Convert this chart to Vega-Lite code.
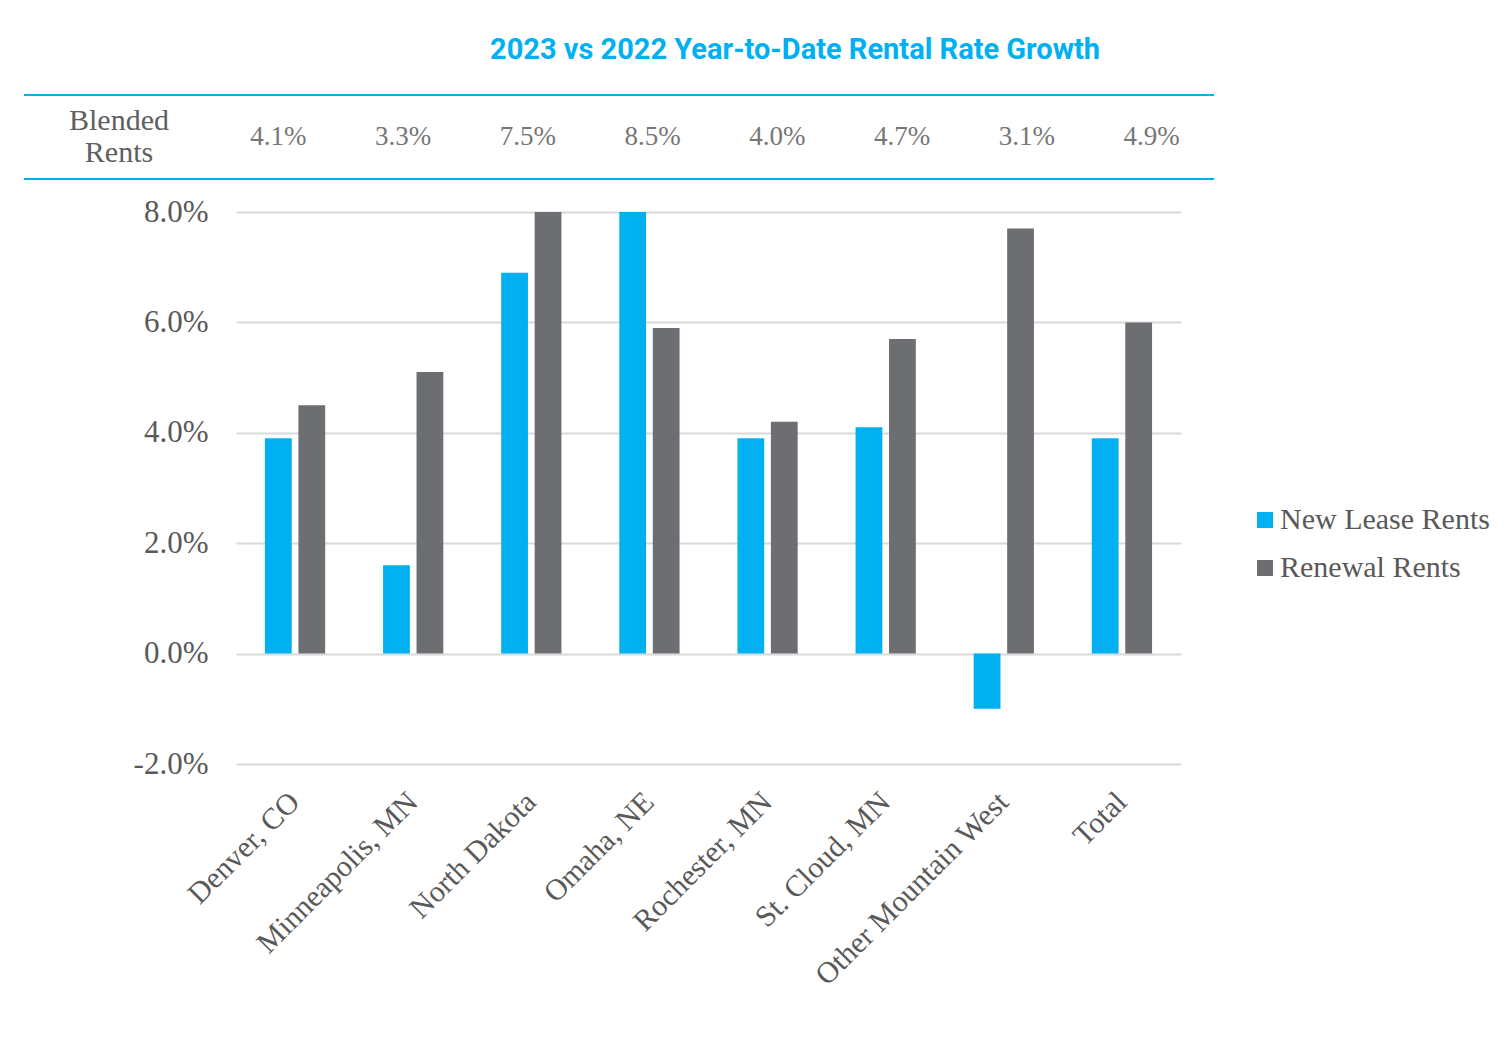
{
  "$schema": "https://vega.github.io/schema/vega-lite/v6.json",
  "background": "white",
  "padding": {"left": 23, "top": 36, "right": 10, "bottom": 10},
  "spacing": 16,
  "resolve": {"scale": {"color": "independent"}, "legend": {"color": "independent"}},
  "config": {
    "view": {"stroke": null},
    "font": "Liberation Serif"
  },
  "datasets": {
    "blended": [
      {"market": "Denver, CO", "blended": 0.041},
      {"market": "Minneapolis, MN", "blended": 0.033},
      {"market": "North Dakota", "blended": 0.075},
      {"market": "Omaha, NE", "blended": 0.085},
      {"market": "Rochester, MN", "blended": 0.040},
      {"market": "St. Cloud, MN", "blended": 0.047},
      {"market": "Other Mountain West", "blended": 0.031},
      {"market": "Total", "blended": 0.049}
    ],
    "rates": [
      {"market": "Denver, CO", "series": "New Lease Rents", "value": 3.9},
      {"market": "Denver, CO", "series": "Renewal Rents", "value": 4.5},
      {"market": "Minneapolis, MN", "series": "New Lease Rents", "value": 1.6},
      {"market": "Minneapolis, MN", "series": "Renewal Rents", "value": 5.1},
      {"market": "North Dakota", "series": "New Lease Rents", "value": 6.9},
      {"market": "North Dakota", "series": "Renewal Rents", "value": 8.0},
      {"market": "Omaha, NE", "series": "New Lease Rents", "value": 8.0},
      {"market": "Omaha, NE", "series": "Renewal Rents", "value": 5.9},
      {"market": "Rochester, MN", "series": "New Lease Rents", "value": 3.9},
      {"market": "Rochester, MN", "series": "Renewal Rents", "value": 4.2},
      {"market": "St. Cloud, MN", "series": "New Lease Rents", "value": 4.1},
      {"market": "St. Cloud, MN", "series": "Renewal Rents", "value": 5.7},
      {"market": "Other Mountain West", "series": "New Lease Rents", "value": -1.0},
      {"market": "Other Mountain West", "series": "Renewal Rents", "value": 7.7},
      {"market": "Total", "series": "New Lease Rents", "value": 3.9},
      {"market": "Total", "series": "Renewal Rents", "value": 6.0}
    ]
  },
  "vconcat": [
    {
      "width": 978,
      "height": 84,
      "title": {
        "text": "2023 vs 2022 Year-to-Date Rental Rate Growth",
        "font": "Roboto",
        "fontSize": 29,
        "fontWeight": "bold",
        "color": "#00B0F0",
        "anchor": "middle",
        "dx": 70,
        "baseline": "alphabetic",
        "offset": 6
      },
      "data": {"name": "blended"},
      "layer": [
        {
          "data": {"values": [{}]},
          "mark": {"type": "rule", "color": "#00B0F0", "strokeWidth": 2},
          "encoding": {
            "y": {
              "datum": 1,
              "type": "quantitative",
              "scale": {"domain": [0, 1], "nice": false, "zero": false},
              "axis": {
                "title": ["Blended", "Rents"],
                "titleAngle": 0,
                "titleX": -117,
                "titleY": 26,
                "titleAlign": "center",
                "titleBaseline": "middle",
                "titleFontSize": 30,
                "titleFontWeight": "normal",
                "titleColor": "#5f5f5f",
                "titleFont": "Liberation Serif",
                "titleLineHeight": 32,
                "values": [0, 1],
                "labels": false,
                "ticks": true,
                "tickSize": 212,
                "tickColor": "#00B0F0",
                "tickWidth": 2,
                "translate": 0,
                "domain": false,
                "grid": false,
                "minExtent": 212,
                "maxExtent": 212
              }
            }
          }
        },
        {
          "data": {"values": [{}]},
          "mark": {"type": "rule", "color": "#00B0F0", "strokeWidth": 2},
          "encoding": {
            "y": {"datum": 0, "type": "quantitative"}
          }
        },
        {
          "mark": {"type": "text", "fontSize": 27, "color": "#767676", "font": "Liberation Serif", "baseline": "middle"},
          "encoding": {
            "x": {
              "field": "market",
              "type": "nominal",
              "sort": null,
              "scale": {"type": "band", "range": [-20, 978], "paddingInner": 0, "paddingOuter": 0},
              "axis": null
            },
            "text": {"field": "blended", "type": "quantitative", "format": ".1%"}
          }
        }
      ]
    },
    {
      "width": 945,
      "height": 552,
      "data": {"name": "rates"},
      "mark": {"type": "bar"},
      "encoding": {
        "x": {
          "field": "market",
          "type": "nominal",
          "sort": null,
          "scale": {"paddingInner": 0.49, "paddingOuter": 0.245},
          "axis": {
            "title": null,
            "labelAngle": -45,
            "labelAlign": "right",
            "labelBaseline": "middle",
            "labelPadding": 33,
            "labelOverlap": false,
            "labelLimit": 500,
            "ticks": false,
            "domain": false,
            "labelFontSize": 30,
            "labelColor": "#595959",
            "labelFont": "Liberation Serif"
          }
        },
        "xOffset": {
          "field": "series",
          "type": "nominal",
          "sort": ["New Lease Rents", "Renewal Rents"],
          "scale": {"paddingInner": 0.2, "paddingOuter": 0}
        },
        "y": {
          "field": "value",
          "type": "quantitative",
          "scale": {"domain": [-2, 8], "nice": false, "zero": true},
          "axis": {
            "title": null,
            "values": [-2, 0, 2, 4, 6, 8],
            "labelExpr": "(datum.value < 0 ? '-' : '') + format(abs(datum.value), '.1f') + '%'",
            "ticks": false,
            "domain": false,
            "gridColor": "#d9d9d9",
            "gridWidth": 2,
            "labelPadding": 28,
            "labelFontSize": 31,
            "labelColor": "#595959",
            "labelFont": "Liberation Serif",
            "minExtent": 212,
            "maxExtent": 212
          }
        },
        "color": {
          "field": "series",
          "type": "nominal",
          "scale": {"domain": ["New Lease Rents", "Renewal Rents"], "range": ["#00B0F0", "#6D6E71"]},
          "legend": {
            "title": null,
            "orient": "none",
            "legendX": 1014,
            "legendY": 293,
            "symbolType": "square",
            "symbolSize": 256,
            "symbolStrokeWidth": 0,
            "symbolOpacity": 1,
            "labelFontSize": 30,
            "labelColor": "#595959",
            "labelFont": "Liberation Serif",
            "labelLimit": 400,
            "labelOffset": 0,
            "rowPadding": 18,
            "padding": 0
          }
        }
      }
    }
  ]
}
